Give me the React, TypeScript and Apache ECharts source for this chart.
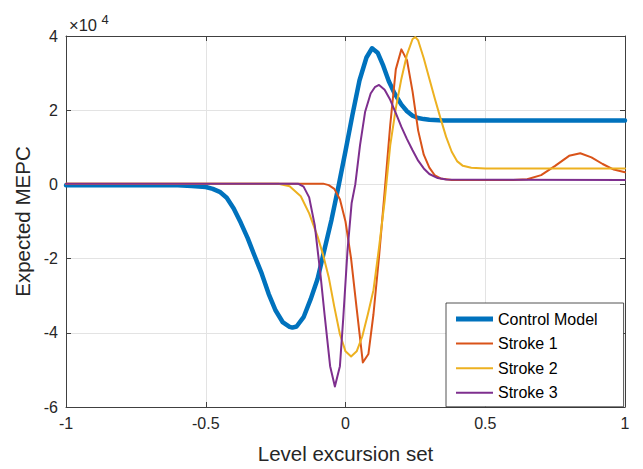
import React, { useEffect, useRef } from "react";
import * as echarts from "echarts";

const FONT = "'Liberation Sans', Arial, Helvetica, sans-serif";

const seriesNames = ["Control Model", "Stroke 1", "Stroke 2", "Stroke 3"];
const colors = ["#0072BD", "#D95319", "#EDB120", "#7E2F8E"];

const xTicks = [-1, -0.5, 0, 0.5, 1];
const yTicks = [-60000, -40000, -20000, 0, 20000, 40000];

const controlX = [-1, -0.7, -0.6, -0.55, -0.5, -0.475, -0.45, -0.425, -0.4, -0.375, -0.35, -0.325, -0.3, -0.275, -0.25, -0.225, -0.2, -0.19, -0.175, -0.15, -0.125, -0.1, -0.075, -0.05, -0.025, 0, 0.025, 0.05, 0.075, 0.095, 0.115, 0.135, 0.155, 0.175, 0.2, 0.22, 0.24, 0.26, 0.28, 0.3, 0.35, 1];
const controlY = [-200, -200, -250, -400, -700, -1200, -2000, -3600, -6500, -10300, -14500, -19300, -24000, -29500, -34000, -37100, -38400, -38600, -38300, -35800, -31000, -25500, -17500, -9500, -500, 9000, 18800, 28000, 34200, 36700, 35500, 32000, 27800, 24600, 21500, 19700, 18500, 17900, 17600, 17400, 17200, 17200];

const stroke1X = [-1, -0.08, -0.06, -0.04, -0.02, 0, 0.02, 0.04, 0.062, 0.082, 0.1, 0.12, 0.14, 0.16, 0.18, 0.2, 0.22, 0.24, 0.26, 0.28, 0.3, 0.32, 0.34, 0.38, 0.6, 0.65, 0.7, 0.75, 0.8, 0.84, 0.88, 0.92, 0.96, 1];
const stroke1Y = [200, 200, -200, -1200, -4000, -10000, -20000, -33500, -48000, -45700, -35000, -19500, -2000, 16000, 31000, 36400, 33500, 25000, 14500, 8000, 4500, 2400, 1600, 1200, 1200, 1400, 2500, 5000, 7700, 8400, 7300, 5500, 4000, 3300];

const stroke2X = [-1, -0.24, -0.2, -0.16, -0.13, -0.1, -0.08, -0.06, -0.04, -0.02, 0, 0.02, 0.04, 0.06, 0.08, 0.1, 0.12, 0.14, 0.16, 0.18, 0.2, 0.22, 0.24, 0.25, 0.26, 0.28, 0.3, 0.32, 0.34, 0.36, 0.38, 0.4, 0.42, 0.45, 0.5, 1];
const stroke2Y = [200, 200, -500, -3200, -7800, -14000, -19000, -25000, -33000, -40400, -45000, -46400, -45000, -41000, -35000, -28500, -17000, -4500, 10500, 20500, 28500, 35000, 39200, 39700, 38800, 34000, 28500, 23000, 17800, 12800, 8800, 6200, 5000, 4500, 4300, 4300];

const stroke3X = [-1, -0.17, -0.15, -0.13, -0.11, -0.09, -0.075, -0.055, -0.038, -0.02, -0.008, 0.007, 0.022, 0.035, 0.052, 0.07, 0.09, 0.105, 0.12, 0.14, 0.16, 0.18, 0.2, 0.22, 0.24, 0.26, 0.28, 0.3, 0.33, 0.36, 1];
const stroke3Y = [200, 200, -600, -3500, -11000, -24000, -35000, -49000, -54500, -49000, -36000, -18000, -5000, 0, 10600, 19500, 24500, 26200, 26800, 25500, 22800, 19200, 15500, 12200, 9200, 6400, 4300, 2800, 1700, 1300, 1200];

const allX = [controlX, stroke1X, stroke2X, stroke3X];
const allY = [controlY, stroke1Y, stroke2Y, stroke3Y];
const widths = [4.5, 2, 2, 2];
const legendIcons = [
  "path://M0,0L37,0L37,5L0,5Z",
  "path://M0,0L37,0L37,2L0,2Z",
  "path://M0,0L37,0L37,2L0,2Z",
  "path://M0,0L37,0L37,2L0,2Z",
];

const axisColor = "#404040";
const gridColor = "#e3e3e3";

export default function App() {
  const ref = useRef<HTMLDivElement>(null);
  useEffect(() => {
    document.body.style.margin = "0";
    const chart = echarts.init(ref.current!, null, { renderer: "svg" });
    const series = seriesNames.map((name, i) => ({
      name,
      type: "line",
      data: allX[i].map((x, j) => [x, allY[i][j]]),
      showSymbol: false,
      symbol: "none",
      smooth: false,
      lineStyle: { color: colors[i], width: widths[i], join: "round", cap: "round" },
      itemStyle: { color: colors[i] },
      z: 2 + i,
    }));
    chart.setOption({
      animation: false,
      backgroundColor: "#ffffff",
      textStyle: { fontFamily: FONT },
      grid: { left: 66, right: 18, top: 36, bottom: 59, containLabel: false },
      legend: {
        orient: "vertical",
        left: 446,
        top: 303,
        padding: [8, 26, 6, 10],
        itemWidth: 37,
        itemHeight: 16,
        itemGap: 8.6,
        backgroundColor: "#ffffff",
        borderColor: "#262626",
        borderWidth: 0.8,
        borderRadius: 0,
        textStyle: { fontFamily: FONT, fontSize: 16, color: "#000000" },
        data: seriesNames.map((n, i) => ({ name: n, icon: legendIcons[i], itemStyle: { color: colors[i] } })),
      },
      xAxis: [
        {
          type: "value",
          min: -1,
          max: 1,
          interval: 0.5,
          name: "Level excursion set",
          nameLocation: "middle",
          nameGap: 36,
          nameTextStyle: { fontFamily: FONT, fontSize: 20.5, color: "#262626" },
          axisLine: { show: true, onZero: false, lineStyle: { color: axisColor, width: 1 } },
          axisTick: { show: true, inside: true, length: 5, lineStyle: { color: axisColor } },
          axisLabel: {
            fontFamily: FONT,
            fontSize: 16,
            color: "#262626",
            margin: 8,
            formatter: (v: number) => (xTicks.includes(v) ? String(v) : ""),
          },
          splitLine: { show: true, lineStyle: { color: gridColor, width: 1 } },
        },
        {
          type: "value",
          min: -1,
          max: 1,
          interval: 0.5,
          position: "top",
          axisLine: { show: true, onZero: false, lineStyle: { color: axisColor, width: 1 } },
          axisTick: { show: true, inside: true, length: 5, lineStyle: { color: axisColor } },
          axisLabel: { show: false },
          splitLine: { show: false },
        },
      ],
      yAxis: [
        {
          type: "value",
          min: -60000,
          max: 40000,
          interval: 20000,
          name: "Expected MEPC",
          nameLocation: "middle",
          nameGap: 25,
          nameTextStyle: { fontFamily: FONT, fontSize: 20.5, color: "#262626" },
          axisLine: { show: true, onZero: false, lineStyle: { color: axisColor, width: 1 } },
          axisTick: { show: true, inside: true, length: 5, lineStyle: { color: axisColor } },
          axisLabel: {
            fontFamily: FONT,
            fontSize: 16,
            color: "#262626",
            margin: 8,
            formatter: (v: number) => (yTicks.includes(v) ? String(v / 10000) : ""),
          },
          splitLine: { show: true, lineStyle: { color: gridColor, width: 1 } },
        },
        {
          type: "value",
          min: -60000,
          max: 40000,
          interval: 20000,
          position: "right",
          axisLine: { show: true, onZero: false, lineStyle: { color: axisColor, width: 1 } },
          axisTick: { show: true, inside: true, length: 5, lineStyle: { color: axisColor } },
          axisLabel: { show: false },
          splitLine: { show: false },
        },
      ],
      graphic: [
        {
          type: "text",
          left: 69,
          top: 16,
          style: { text: "×10", fontFamily: FONT, fontSize: 16.5, fill: "#262626" },
        },
        {
          type: "text",
          left: 101.5,
          top: 13,
          style: { text: "4", fontFamily: FONT, fontSize: 13, fill: "#262626" },
        },
      ],
      series,
    });
    return () => chart.dispose();
  }, []);
  return <div ref={ref} style={{ width: 643, height: 469 }} />;
}
